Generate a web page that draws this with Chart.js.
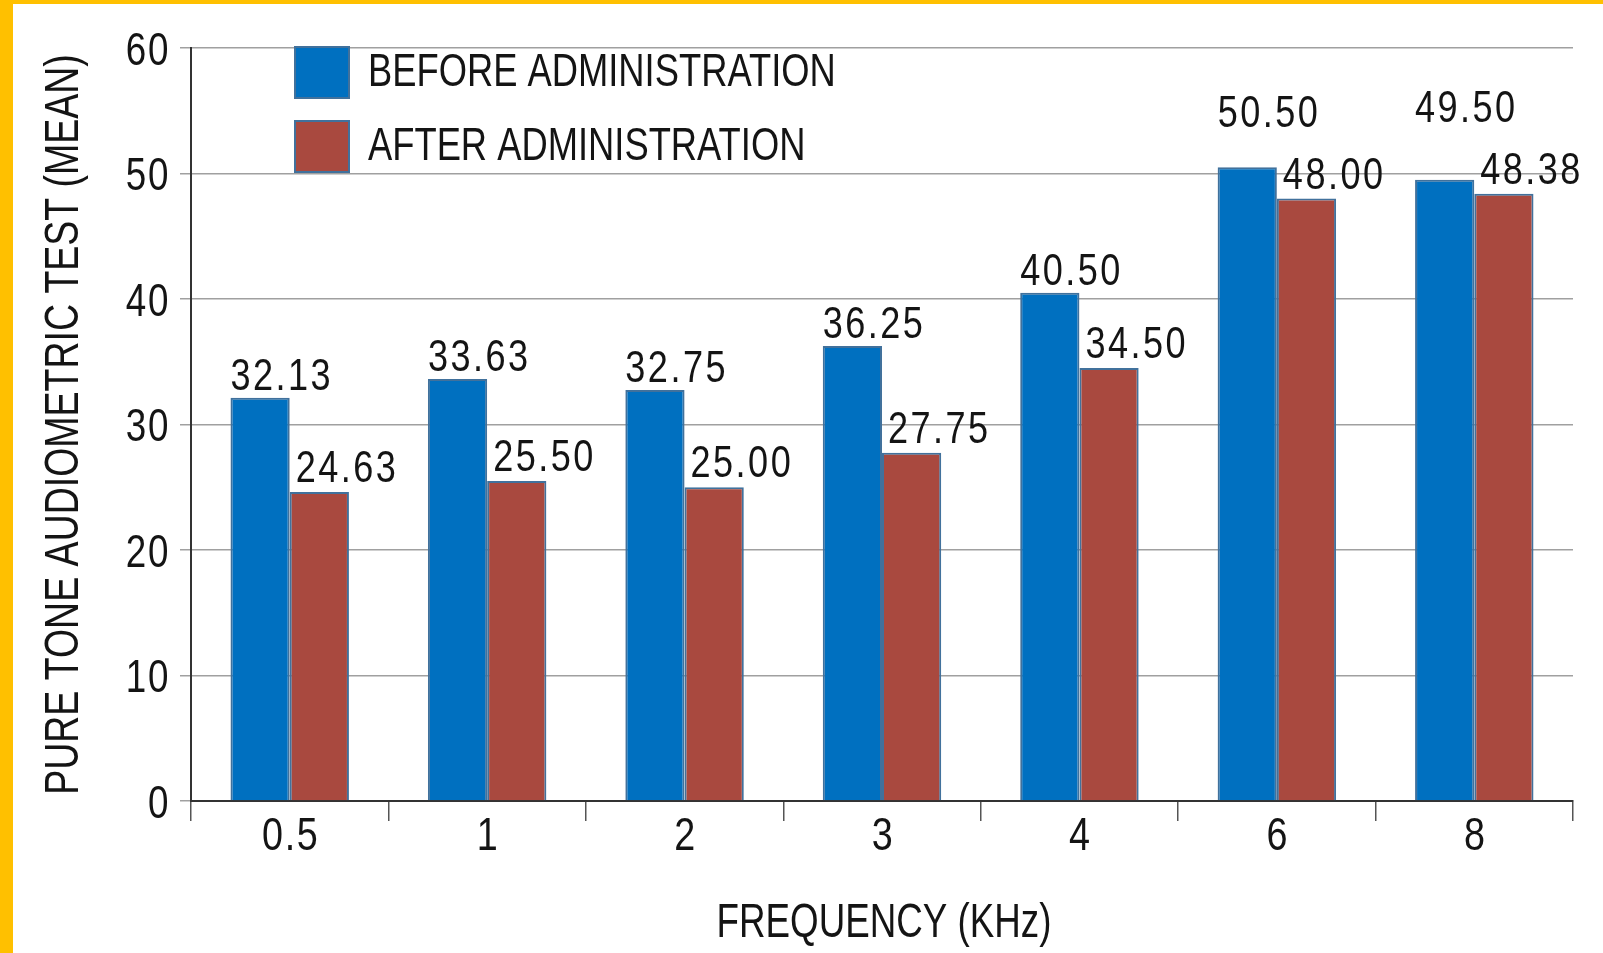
<!DOCTYPE html>
<html>
<head>
<meta charset="utf-8">
<script src="https://cdn.jsdelivr.net/npm/chart.js@4/dist/chart.umd.min.js"></script>
<style>
  html, body { margin: 0; padding: 0; background: #ffffff; overflow: hidden; }
  #frame {
    position: absolute; left: 0; top: 0; width: 1603px; height: 953px;
    background: #FFC000;
  }
  #wrap {
    position: absolute; left: 13px; top: 4px; width: 1590px; height: 949px;
    background: #ffffff;
  }
</style>
</head>
<body>
<div id="frame"><div id="wrap"><canvas id="chart" width="1590" height="949"></canvas></div></div>
<script>
// datos
const frecuencias = ['0.5', '1', '2', '3', '4', '6', '8'];
const antes = [32.13, 33.63, 32.75, 36.25, 40.50, 50.50, 49.50];
const despues = [24.63, 25.50, 25.00, 27.75, 34.50, 48.00, 48.38];
const nombres = ['BEFORE ADMINISTRATION', 'AFTER ADMINISTRATION'];
const ticksY = [0, 10, 20, 30, 40, 50, 60];
const tituloX = 'FREQUENCY (KHz)';
const tituloY = 'PURE TONE AUDIOMETRIC TEST (MEAN)';

const FUENTE = '"Liberation Sans", Arial, sans-serif';
const AZUL = '#0070C0';
const ROJO = '#A9493F';
const BORDE = '#41719C';
const TINTA = '#141414';

// texto estrecho: se comprime en horizontal para imitar una fuente "narrow"
function texto(ctx, str, x, y, size, sx, align, espacio, rot) {
  ctx.save();
  ctx.translate(x, y);
  if (rot) ctx.rotate(rot);
  ctx.scale(sx, 1);
  ctx.font = size + 'px ' + FUENTE;
  ctx.letterSpacing = (espacio || 0) + 'px';
  ctx.fillStyle = TINTA;
  ctx.textAlign = align;
  ctx.textBaseline = 'alphabetic';
  ctx.fillText(str, 0, 0);
  ctx.restore();
}

// etiquetas de ejes y títulos, dibujadas a partir de las escalas de Chart.js
const ejes = {
  id: 'ejes',
  afterDraw(chart) {
    const ctx = chart.ctx;
    const sx = chart.scales.x;
    const sy = chart.scales.y;
    const area = chart.chartArea;
    sy.ticks.forEach(t => {
      texto(ctx, String(t.value), sy.right - 21, sy.getPixelForValue(t.value) + 16.5, 46, 0.8, 'right', 2);
    });
    sx.ticks.forEach((t, i) => {
      texto(ctx, frecuencias[i], sx.getPixelForTick(i) + 1, area.bottom + 49, 46, 0.82, 'center', 2);
    });
    texto(ctx, tituloX, (area.left + area.right) / 2 + 2, area.bottom + 136, 49, 0.75, 'center', 0);
    texto(ctx, tituloY, 47 + 17.5, (area.top + area.bottom) / 2, 49, 0.765, 'center', 0, -Math.PI / 2);
  }
};

// etiquetas de valor encima de cada barra
const etiquetas = {
  id: 'etiquetas',
  afterDatasetsDraw(chart) {
    const ctx = chart.ctx;
    const m0 = chart.getDatasetMeta(0);
    const m1 = chart.getDatasetMeta(1);
    m0.data.forEach((b0, i) => {
      const b1 = m1.data[i];
      const baseRojo = b1.y - 10;
      const topeRojo = baseRojo - 32;
      let baseAzul = b0.y - 8;
      if (baseAzul > topeRojo - 4) baseAzul = topeRojo - 30;
      texto(ctx, antes[i].toFixed(2), b0.x - b0.width / 2, baseAzul, 44, 0.82, 'left', 3);
      texto(ctx, despues[i].toFixed(2), b1.x - b1.width / 2 + 6, baseRojo, 44, 0.82, 'left', 3);
    });
  }
};

// leyenda dentro del área del gráfico
const leyenda = {
  id: 'leyenda',
  afterDraw(chart) {
    const ctx = chart.ctx;
    const filas = [43, 117];
    chart.data.datasets.forEach((ds, i) => {
      const y = filas[i];
      ctx.save();
      ctx.fillStyle = ds.backgroundColor;
      ctx.fillRect(282, y, 54, 51);
      ctx.strokeStyle = BORDE;
      ctx.lineWidth = 2;
      ctx.strokeRect(282, y, 54, 51);
      ctx.restore();
      texto(ctx, nombres[i], 355, y + 39, 46, 0.79, 'left', 0);
    });
  }
};

const ctx = document.getElementById('chart').getContext('2d');
const chart = new Chart(ctx, {
  type: 'bar',
  data: {
    labels: frecuencias,
    datasets: [
      { label: nombres[0], data: antes, backgroundColor: AZUL, borderColor: BORDE, borderWidth: 2 },
      { label: nombres[1], data: despues, backgroundColor: ROJO, borderColor: BORDE, borderWidth: 2 }
    ]
  },
  options: {
    responsive: false,
    animation: false,
    layout: { padding: { top: 44, right: 30, left: 0, bottom: 0 } },
    datasets: { bar: { barPercentage: 1.0, categoryPercentage: 0.6 } },
    plugins: {
      legend: { display: false },
      tooltip: { enabled: false }
    },
    scales: {
      x: {
        afterFit(scale) { scale.height = 152; },
        grid: { display: true, drawOnChartArea: false, drawTicks: true, tickLength: 20, color: '#555', lineWidth: 1.5 },
        border: { display: true, color: '#333', width: 2 },
        ticks: { display: false }
      },
      y: {
        min: 0, max: 60,
        afterFit(scale) { scale.width = 178; },
        afterBuildTicks(scale) { scale.ticks = ticksY.map(v => ({ value: v })); },
        grid: { color: '#a0a0a0', lineWidth: 1.5, tickLength: 11 },
        border: { display: true, color: '#333', width: 2 },
        ticks: { display: false }
      }
    }
  },
  plugins: [etiquetas, leyenda, ejes]
});
</script>
</body>
</html>
